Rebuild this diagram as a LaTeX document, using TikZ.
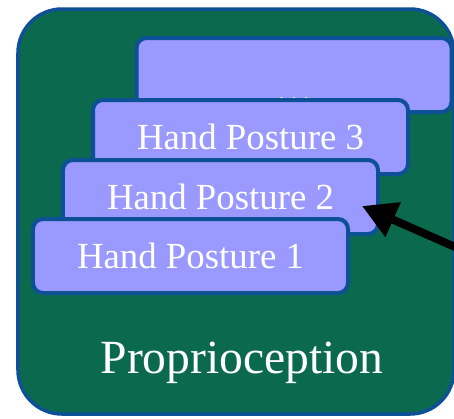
\documentclass[tikz,border=0pt]{standalone}
\usepackage{fontspec}
\setmainfont{Liberation Serif}
\usetikzlibrary{arrows.meta,calc}
\definecolor{sensegreen}{RGB}{11,106,78}
\definecolor{edgeblue}{RGB}{14,80,150}
\definecolor{posefill}{RGB}{153,153,255}
\tikzset{
  panel/.style={draw=edgeblue, line width=3.5bp, fill=sensegreen,
    rounded corners=44bp, minimum width=436bp, minimum height=405bp,
    inner sep=0pt},
  posebox/.style={draw=edgeblue, line width=4bp, fill=posefill,
    rounded corners=10bp, minimum width=315bp, minimum height=74bp,
    inner sep=0pt, text=white,
    font=\fontsize{36.8bp}{40bp}\selectfont},
  caption/.style={text=white, inner sep=0pt, anchor=base,
    font=\fontsize{47.6bp}{52bp}\selectfont},
  pointer/.style={line width=8bp, -{Triangle[length=34bp,width=36bp]}}
}
\begin{document}
\begin{tikzpicture}[x=1bp,y=-1bp]
  \useasboundingbox (0,0) rectangle (454,418);
  % outer panel
  \node[panel] (panel) at (236,211.5) {};
  % stacked posture cards, back to front
  \node[posebox] (box4) at (294,75) {};
  \node[text=white, inner sep=0pt, anchor=base,
        font=\fontsize{36.8bp}{40bp}\selectfont] (dots) at (294,101) {\ldots};
  \node[posebox] (box3) at (250.5,137) {Hand Posture 3};
  \node[posebox] (box2) at (220.5,197) {Hand Posture 2};
  \node[posebox] (box1) at (190.5,256) {Hand Posture 1};
  % label
  \node[caption] (label) at (242,373) {Proprioception};
  % incoming arrow
  \coordinate (src) at (480,258);
  \draw[pointer] (src) -- ([xshift=-18bp,yshift=-9bp]box2.east);
\end{tikzpicture}
\end{document}
